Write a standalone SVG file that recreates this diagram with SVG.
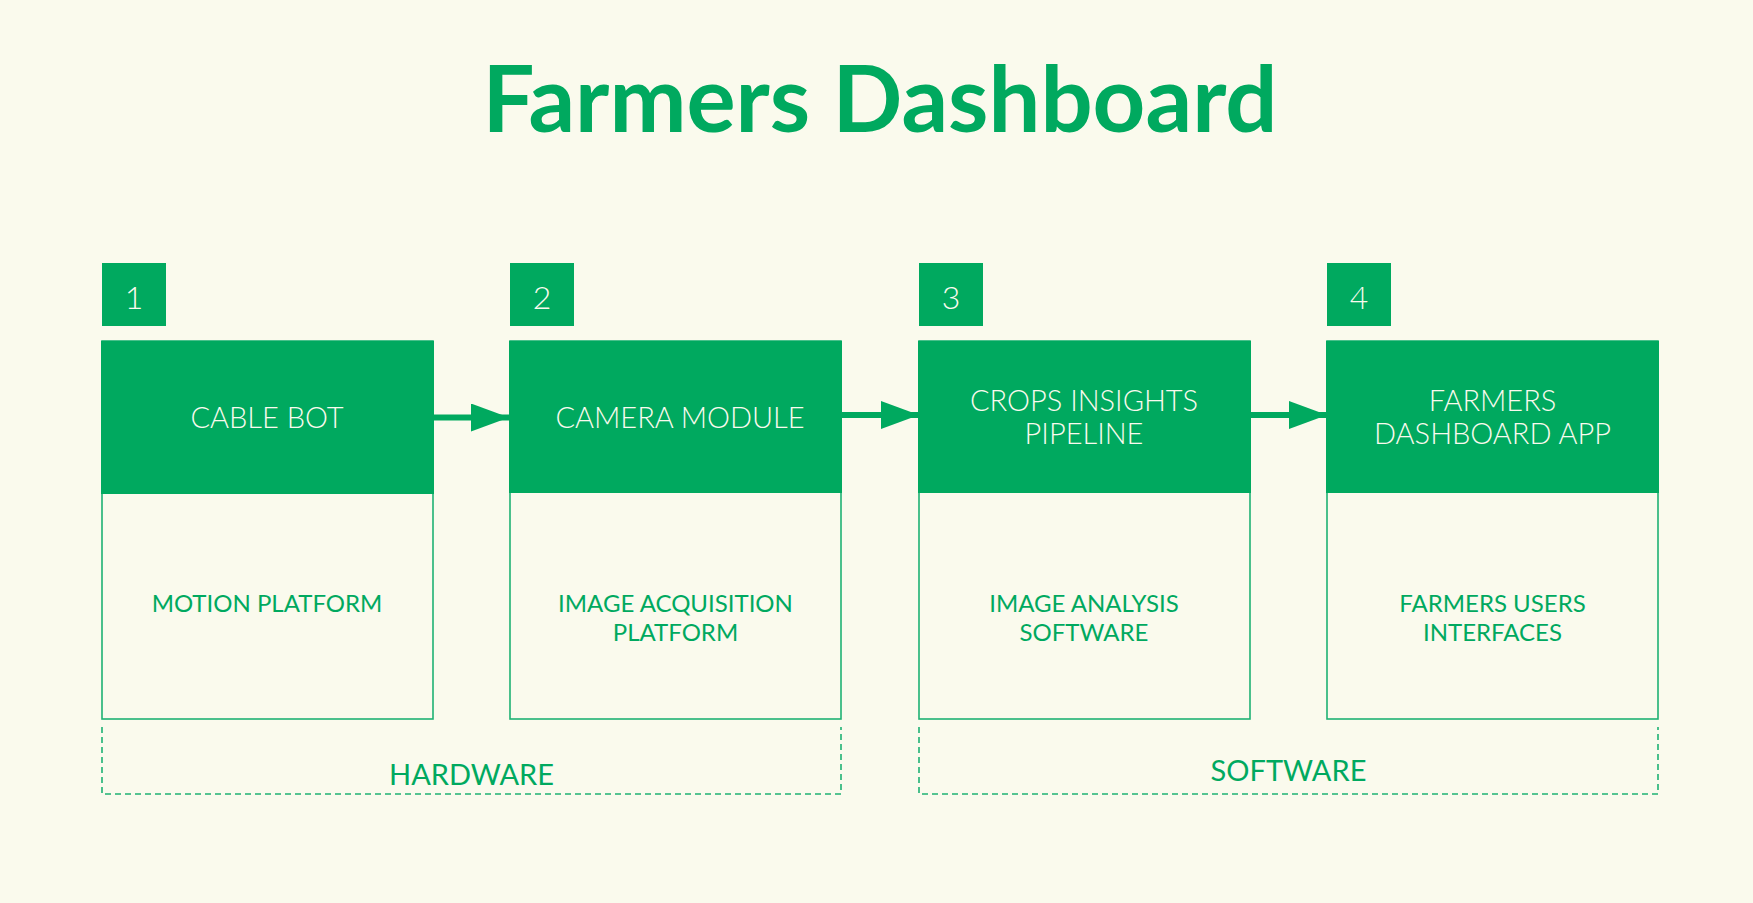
<svg xmlns="http://www.w3.org/2000/svg" width="1753" height="903" viewBox="0 0 1753 903">
<style>
.bg{fill:#fafaed}
.hdr{fill:#00a95f}
.box{fill:none;stroke:#1fb273;stroke-width:1.6}
.badge{fill:#00a95f}
.dash{fill:none;stroke:#1fb273;stroke-width:1.6;stroke-dasharray:6 4}
.title{font-family:Lato,"Open Sans",sans-serif;font-weight:bold;font-size:92px;fill:#00a95f;text-anchor:middle}
.ht{font-family:Lato,"Open Sans",sans-serif;font-weight:300;font-size:29px;fill:#fafaee;text-anchor:middle}
.bt{font-family:Lato,"Open Sans",sans-serif;font-size:24px;fill:#00a95f;text-anchor:middle}
.num{font-family:Lato,"Open Sans",sans-serif;font-weight:300;font-size:32px;fill:#fafaee;text-anchor:middle}
.grp{font-family:Lato,"Open Sans",sans-serif;font-size:29px;fill:#00a95f;text-anchor:middle}
.conn{stroke:#00a95f;stroke-width:6;fill:none}
</style>
<defs>
<marker id="ah" markerUnits="userSpaceOnUse" markerWidth="38" markerHeight="28" refX="38" refY="14" orient="auto">
<path d="M0,0 L38,14 L0,28 Z" fill="#00a95f"/>
</marker>
</defs>
<rect class="bg" x="0" y="0" width="1753" height="903"/>
<text class="title" x="880" y="132">Farmers Dashboard</text>

<g id="node1">
<rect class="badge" x="102" y="263" width="64" height="63"/>
<text class="num" x="134" y="309">1</text>
<rect class="box" x="102" y="341" width="331" height="378"/>
<rect class="hdr" x="101" y="341" width="333" height="153"/>
<text class="ht" x="267" y="428">CABLE BOT</text>
<text class="bt" x="267" y="612">MOTION PLATFORM</text>
</g>

<g id="node2">
<rect class="badge" x="510" y="263" width="64" height="63"/>
<text class="num" x="542" y="309">2</text>
<rect class="box" x="510" y="341" width="331" height="378"/>
<rect class="hdr" x="509" y="341" width="333" height="152"/>
<text class="ht" x="680" y="428">CAMERA MODULE</text>
<text class="bt" x="675.5" y="612">IMAGE ACQUISITION</text>
<text class="bt" x="675.5" y="640.5">PLATFORM</text>
</g>

<g id="node3">
<rect class="badge" x="919" y="263" width="64" height="63"/>
<text class="num" x="951" y="309">3</text>
<rect class="box" x="919" y="341" width="331" height="378"/>
<rect class="hdr" x="918" y="341" width="333" height="152"/>
<text class="ht" x="1084" y="411">CROPS INSIGHTS</text>
<text class="ht" x="1084" y="444">PIPELINE</text>
<text class="bt" x="1084" y="612">IMAGE ANALYSIS</text>
<text class="bt" x="1084" y="640.5">SOFTWARE</text>
</g>

<g id="node4">
<rect class="badge" x="1327" y="263" width="64" height="63"/>
<text class="num" x="1359" y="309">4</text>
<rect class="box" x="1327" y="341" width="331" height="378"/>
<rect class="hdr" x="1326" y="341" width="333" height="152"/>
<text class="ht" x="1492.5" y="411">FARMERS</text>
<text class="ht" x="1492.5" y="444">DASHBOARD APP</text>
<text class="bt" x="1492.5" y="612">FARMERS USERS</text>
<text class="bt" x="1492.5" y="640.5">INTERFACES</text>
</g>

<g id="group-hardware">
<path class="dash" d="M102,727 V794 H841 V727"/>
<text class="grp" x="471.5" y="785">HARDWARE</text>
</g>

<g id="group-software">
<path class="dash" d="M919,727 V794 H1658 V727"/>
<text class="grp" x="1288.5" y="781">SOFTWARE</text>
</g>

<g id="connectors">
<line class="conn" x1="433" y1="417.5" x2="509" y2="417.5" marker-end="url(#ah)"/>
<line class="conn" x1="841" y1="415" x2="919" y2="415" marker-end="url(#ah)"/>
<line class="conn" x1="1250" y1="415" x2="1327" y2="415" marker-end="url(#ah)"/>
</g>
</svg>
